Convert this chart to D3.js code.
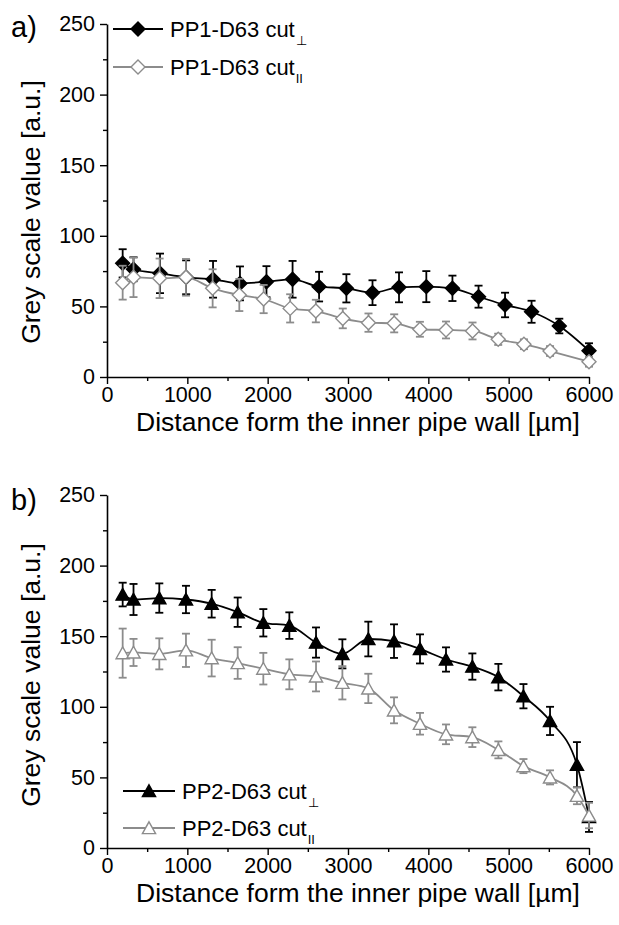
<!DOCTYPE html>
<html>
<head>
<meta charset="utf-8">
<script src="https://cdn.jsdelivr.net/npm/d3@7"></script>
<style>
  body { margin: 0; background: #fff; }
  svg text { font-family: "Liberation Sans", Arial, sans-serif; fill: #000; }
</style>
</head>
<body>
<svg id="chart" width="619" height="925"></svg>
<script>
// Axis ticks
const xMajor = [0, 1000, 2000, 3000, 4000, 5000, 6000];
const xMinor = [500, 1500, 2500, 3500, 4500, 5500];
const yMajor = [0, 50, 100, 150, 200, 250];
const yMinor = [25, 75, 125, 175, 225];

// Panel a) PP1-D63
const xA_perp = [195, 330, 660, 985, 1320, 1655, 1985, 2310, 2640, 2980, 3305, 3635, 3975, 4300, 4625, 4955, 5285, 5630, 6000];
const yA_perp = [80.5, 76.3, 73.4, 70.6, 69.2, 66.3, 67.5, 69.2, 64, 62.8, 59.7, 63.5, 64, 62.8, 56.9, 51, 46.2, 36.1, 18.6];
const eA_perp = [10, 8.5, 14, 12, 13, 12, 11, 13, 10.5, 10, 8.8, 10.6, 11, 9, 7.8, 8.7, 7.8, 5.2, 5.3];

const xA_par = [195, 330, 655, 983, 1315, 1647, 1950, 2280, 2600, 2935, 3255, 3575, 3895, 4220, 4550, 4870, 5190, 5515, 6000];
const yA_par = [66.8, 70.6, 69.9, 70.6, 62.8, 58.1, 55.2, 48.6, 46.7, 41.5, 38.5, 38, 33.8, 33.3, 32.6, 26.7, 23.2, 18.4, 10.8];
const eA_par = [12, 14, 14, 13, 13.5, 11.4, 10, 10, 8, 7, 6.5, 6.4, 5.3, 6, 6, 4, 3.5, 3.5, 3.5];

// Panel b) PP2-D63
const xB = [195, 330, 651, 983, 1303, 1627, 1946, 2270, 2602, 2930, 3253, 3573, 3896, 4220, 4548, 4872, 5184, 5515, 5850, 6000];
const yB_perp = [179.5, 176, 177, 176, 173, 167, 159.5, 157.5, 145.5, 137.5, 148, 146.5, 141, 133.5, 128.5, 121, 107.5, 90, 59, 22];
const eB_perp = [8.4, 11, 10.4, 9.7, 9.8, 10.4, 9.7, 9.4, 10.7, 10.3, 12.3, 11.9, 10.3, 8.6, 9.3, 9.4, 8.6, 10, 16, 10.6];
const yB_par = [138, 138.5, 137.5, 140, 134.5, 131, 127, 123, 121.5, 117, 113, 97.5, 88, 80.5, 78.5, 69.5, 58, 50, 37, 23];
const eB_par = [17.4, 9.6, 11, 11.8, 13, 11.2, 11.2, 10.6, 10.6, 11.8, 10.4, 9.2, 7.7, 7, 7, 6, 5, 5, 6, 9];

const BLACK = "#000";
const GREY = "#8c8c8c";

const svg = d3.select("#chart");

const diamond = "M0,-7L7,0L0,7L-7,0Z";
const triangle = "M0,-6.2L6.6,5.6L-6.6,5.6Z";

function zip(xs, ys, es) {
  return xs.map((x, i) => ({ x, y: ys[i], e: es[i] }));
}

const panels = [
  {
    tag: "a)", tagY: 37, yBottom: 377, yTop: 24, titleY: 431, titleMid: 212,
    legend: { x0: 113, x1: 163, tx: 170, rows: [29, 67] },
    series: [
      { name: "PP1-D63 cut", sub: "\u22a5", color: BLACK, fill: BLACK, shape: diamond, data: zip(xA_perp, yA_perp, eA_perp) },
      { name: "PP1-D63 cut", sub: "II", color: GREY, fill: "#fff", shape: diamond, data: zip(xA_par, yA_par, eA_par) }
    ]
  },
  {
    tag: "b)", tagY: 510, yBottom: 848, yTop: 495, titleY: 902, titleMid: 675,
    legend: { x0: 123, x1: 175, tx: 182, rows: [791, 828] },
    series: [
      { name: "PP2-D63 cut", sub: "\u22a5", color: BLACK, fill: BLACK, shape: triangle, data: zip(xB, yB_perp, eB_perp) },
      { name: "PP2-D63 cut", sub: "II", color: GREY, fill: "#fff", shape: triangle, data: zip(xB, yB_par, eB_par) }
    ]
  }
];

panels.forEach(p => {
  const g = svg.append("g");
  const x = d3.scaleLinear().domain([0, 6000]).range([107, 589]);
  const y = d3.scaleLinear().domain([0, 250]).range([p.yBottom, p.yTop]);

  // minor ticks
  g.append("g").attr("transform", `translate(0,${p.yBottom})`)
    .call(d3.axisBottom(x).tickValues(xMinor).tickSize(4).tickFormat(""))
    .call(a => a.select(".domain").remove());
  g.append("g").attr("transform", `translate(107,0)`)
    .call(d3.axisLeft(y).tickValues(yMinor).tickSize(4).tickFormat(""))
    .call(a => a.select(".domain").remove());

  // major ticks with labels
  const xa = g.append("g").attr("transform", `translate(0,${p.yBottom})`)
    .call(d3.axisBottom(x).tickValues(xMajor).tickSize(7).tickSizeOuter(0).tickPadding(3).tickFormat(d3.format("d")));
  const ya = g.append("g").attr("transform", `translate(107,0)`)
    .call(d3.axisLeft(y).tickValues(yMajor).tickSize(7).tickSizeOuter(0).tickPadding(5).tickFormat(d3.format("d")));
  [xa, ya].forEach(a => {
    a.attr("font-family", null).attr("font-size", null);
    a.selectAll("text").attr("font-size", 21.5);
    a.select(".domain").attr("stroke", "#000").attr("stroke-width", 1.6);
  });
  g.selectAll(".tick line").attr("stroke", "#000").attr("stroke-width", 1.4);

  // axis titles
  g.append("text").attr("x", (107 + 589) / 2 + 10).attr("y", p.titleY)
    .attr("text-anchor", "middle").attr("font-size", 26.5)
    .text("Distance form the inner pipe wall [\u00b5m]");
  g.append("text").attr("transform", `translate(40,${p.titleMid}) rotate(-90)`)
    .attr("text-anchor", "middle").attr("font-size", 26.5)
    .text("Grey scale value [a.u.]");

  // panel tag
  g.append("text").attr("x", 11).attr("y", p.tagY).attr("font-size", 29).text(p.tag);

  const line = d3.line().x(d => x(d.x)).y(d => y(d.y)).curve(d3.curveMonotoneX);

  p.series.forEach(s => {
    const sg = g.append("g");
    sg.append("path").attr("d", line(s.data)).attr("fill", "none")
      .attr("stroke", s.color).attr("stroke-width", 1.8);
    const eb = sg.selectAll(".eb").data(s.data).join("g")
      .attr("stroke", s.color).attr("stroke-width", 1.8);
    eb.append("line").attr("x1", d => x(d.x)).attr("x2", d => x(d.x))
      .attr("y1", d => y(d.y - d.e)).attr("y2", d => y(d.y + d.e));
    eb.append("line").attr("x1", d => x(d.x) - 4).attr("x2", d => x(d.x) + 4)
      .attr("y1", d => y(d.y + d.e)).attr("y2", d => y(d.y + d.e));
    eb.append("line").attr("x1", d => x(d.x) - 4).attr("x2", d => x(d.x) + 4)
      .attr("y1", d => y(d.y - d.e)).attr("y2", d => y(d.y - d.e));
    sg.selectAll(".mk").data(s.data).join("path")
      .attr("d", s.shape)
      .attr("transform", d => `translate(${x(d.x)},${y(d.y)})`)
      .attr("fill", s.fill).attr("stroke", s.color).attr("stroke-width", 1.4);
  });

  // legend
  p.series.forEach((s, i) => {
    const ry = p.legend.rows[i];
    const lg = g.append("g");
    lg.append("line").attr("x1", p.legend.x0).attr("x2", p.legend.x1)
      .attr("y1", ry).attr("y2", ry).attr("stroke", s.color).attr("stroke-width", 1.8);
    lg.append("path").attr("d", s.shape)
      .attr("transform", `translate(${(p.legend.x0 + p.legend.x1) / 2},${ry})`)
      .attr("fill", s.fill).attr("stroke", s.color).attr("stroke-width", 1.4);
    const t = lg.append("text").attr("x", p.legend.tx).attr("y", ry + 8).attr("font-size", 22);
    t.append("tspan").text(s.name);
    t.append("tspan").attr("dy", 8).attr("dx", 1).attr("font-size", 13).text(s.sub);
  });
});
</script>
</body>
</html>
